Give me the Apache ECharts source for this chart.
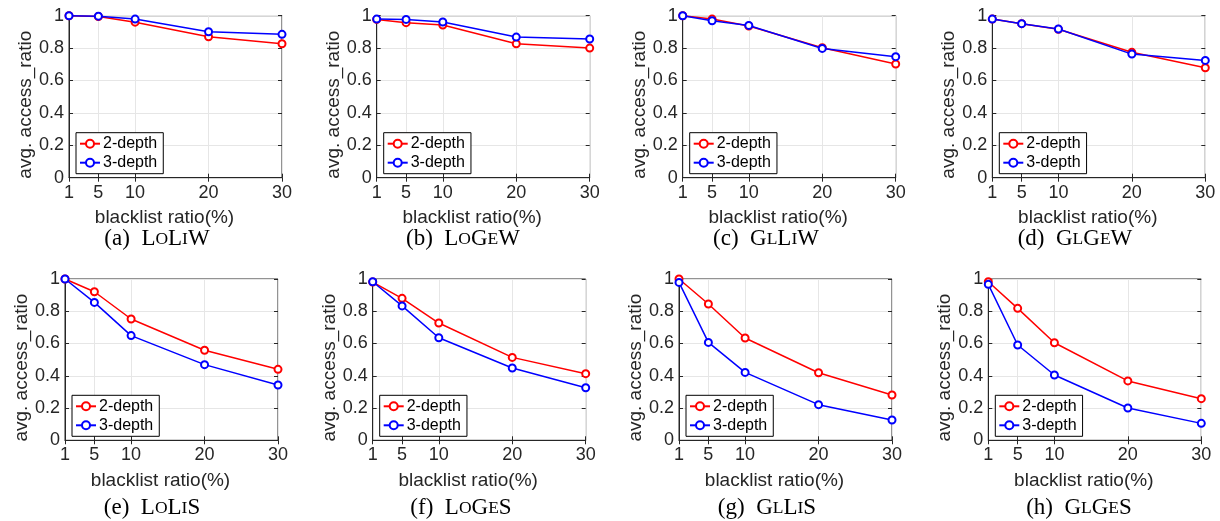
<!DOCTYPE html>
<html><head><meta charset="utf-8">
<script src="https://cdn.jsdelivr.net/npm/echarts@6/dist/echarts.min.js"></script>
<style>html,body{margin:0;padding:0;background:#fff}#c{width:1220px;height:521px}</style>
</head><body><div id="c"></div>
<script>
// ---- data ----
const xValues = [1, 5, 10, 20, 30];
const xTickLabels = ['1', '5', '10', '20', '30'];
const seriesNames = ['2-depth', '3-depth'];
const panelLetters = ['a', 'b', 'c', 'd', 'e', 'f', 'g', 'h'];
const panelNames = ['LoLiW', 'LoGeW', 'GlLiW', 'GlGeW', 'LoLiS', 'LoGeS', 'GlLiS', 'GlGeS'];
const xAxisTitle = 'blacklist ratio(%)';
const yAxisTitle = 'avg. access_ratio';

const loliw2 = [1.000, 0.995, 0.960, 0.870, 0.827];
const loliw3 = [1.000, 0.997, 0.979, 0.901, 0.885];
const logew2 = [0.977, 0.957, 0.942, 0.827, 0.800];
const logew3 = [0.979, 0.977, 0.961, 0.868, 0.856];
const glliw2 = [1.000, 0.979, 0.936, 0.802, 0.702];
const glliw3 = [1.000, 0.969, 0.940, 0.798, 0.747];
const glgew2 = [0.979, 0.951, 0.916, 0.774, 0.679];
const glgew3 = [0.979, 0.951, 0.918, 0.763, 0.724];
const lolis2 = [1.000, 0.921, 0.752, 0.558, 0.440];
const lolis3 = [1.000, 0.855, 0.649, 0.469, 0.343];
const loges2 = [0.981, 0.880, 0.727, 0.514, 0.413];
const loges3 = [0.983, 0.833, 0.636, 0.448, 0.326];
const gllis2 = [1.000, 0.845, 0.634, 0.419, 0.281];
const gllis3 = [0.979, 0.607, 0.421, 0.221, 0.126];
const glges2 = [0.983, 0.818, 0.605, 0.368, 0.258];
const glges3 = [0.967, 0.591, 0.405, 0.200, 0.105];

const panelData = [
  [loliw2, loliw3], [logew2, logew3], [glliw2, glliw3], [glgew2, glgew3],
  [lolis2, lolis3], [loges2, loges3], [gllis2, gllis3], [glges2, glges3]
];

// ---- layout (px) ----
const gridLeft = [69, 376.7, 682.7, 992.3, 65, 372.7, 679, 988.3];
const gridTop = [15.7, 15.7, 15.7, 15.7, 279, 279, 279, 279];
const gridW = 213;
const gridH = [162, 162, 162, 162, 161.3, 161.3, 161.3, 161.3];
const captionX = [157, 463, 766, 1075, 152, 461, 767, 1079];
const captionY = [239, 239, 239, 239, 508, 508, 508, 508];
const colors = ['#ff0000', '#0000ff'];
const axisColor = '#262626';
const gridColor = '#e6e6e6';

const grids = [], xAxes = [], yAxes = [], series = [], legends = [], graphics = [];

for (let i = 0; i < 8; i++) {
  grids.push({left: gridLeft[i], top: gridTop[i], width: gridW, height: gridH[i],
    show: true, borderColor: axisColor, borderWidth: 1, backgroundColor: '#fff'});
  xAxes.push({
    type: 'value', gridIndex: i, min: 1, max: 30,
    name: xAxisTitle, nameLocation: 'middle', nameGap: 31,
    nameTextStyle: {fontSize: 19, color: axisColor, fontFamily: 'Liberation Sans', padding: [0, 22, 0, 0]},
    axisLine: {show: true, onZero: false, lineStyle: {color: axisColor, width: 1}},
    axisTick: {show: true, inside: true, length: 4, customValues: xValues, lineStyle: {color: axisColor}},
    axisLabel: {customValues: xValues, fontSize: 18, color: axisColor, margin: 6, fontFamily: 'Liberation Sans',
      formatter: v => xTickLabels[xValues.indexOf(v)]},
    splitLine: {show: true, lineStyle: {color: gridColor, width: 1}}
  });
  yAxes.push({
    type: 'value', gridIndex: i, min: 0, max: 1, interval: 0.2,
    name: yAxisTitle, nameLocation: 'middle', nameGap: 33, nameRotate: 90,
    nameTextStyle: {fontSize: 19, color: axisColor, fontFamily: 'Liberation Sans', padding: [0, 16, 0, 0]},
    axisLine: {show: true, onZero: false, lineStyle: {color: axisColor, width: 1}},
    axisTick: {show: true, inside: true, length: 4, lineStyle: {color: axisColor}},
    axisLabel: {fontSize: 18, color: axisColor, margin: 5, fontFamily: 'Liberation Sans'},
    splitLine: {show: true, lineStyle: {color: gridColor, width: 1}}
  });
}
// mirrored ticks on top / right
for (let i = 0; i < 8; i++) {
  xAxes.push({type: 'value', gridIndex: i, min: 1, max: 30, position: 'top',
    axisLine: {show: false}, axisLabel: {show: false}, splitLine: {show: false},
    axisTick: {show: true, inside: true, length: 4, customValues: xValues, lineStyle: {color: axisColor}}});
  yAxes.push({type: 'value', gridIndex: i, min: 0, max: 1, interval: 0.2, position: 'right',
    axisLine: {show: false}, axisLabel: {show: false}, splitLine: {show: false},
    axisTick: {show: true, inside: true, length: 4, lineStyle: {color: axisColor}}});
}

for (let i = 0; i < 8; i++) {
  for (let s = 0; s < 2; s++) {
    series.push({
      type: 'line', name: seriesNames[s], xAxisIndex: i, yAxisIndex: i,
      data: xValues.map((x, k) => [x, panelData[i][s][k]]),
      symbol: 'emptyCircle', symbolSize: 7, showSymbol: true,
      lineStyle: {color: colors[s], width: 1.5},
      itemStyle: {color: colors[s], borderWidth: 1.3},
      clip: false, z: 3 + s
    });
  }
  legends.push({
    left: gridLeft[i] + 7, top: gridTop[i] + gridH[i] - 45,
    orient: 'vertical', itemGap: 3, itemWidth: 20, itemHeight: 10,
    padding: [3, 6, 3, 3], borderColor: '#000', borderWidth: 1, backgroundColor: '#fff',
    selectedMode: false, data: seriesNames,
    textStyle: {fontSize: 16, color: '#000', fontFamily: 'Liberation Sans', padding: [0, 0, 0, -2]}
  });
  const rich = panelNames[i].split('').map(ch =>
    ch === ch.toUpperCase() ? '{b|' + ch + '}' : '{s|' + ch.toUpperCase() + '}').join('');
  graphics.push({
    type: 'text', x: captionX[i], y: captionY[i],
    style: {
      text: '{b|(' + panelLetters[i] + ')  }' + rich,
      align: 'center', verticalAlign: 'middle',
      rich: {
        b: {fontFamily: 'Liberation Serif', fontSize: 23, fill: '#000'},
        s: {fontFamily: 'Liberation Serif', fontSize: 17.5, fill: '#000'}
      }
    }
  });
}

const chart = echarts.init(document.getElementById('c'), null, {renderer: 'canvas'});
chart.setOption({
  animation: false,
  backgroundColor: '#fff',
  grid: grids, xAxis: xAxes, yAxis: yAxes, series: series, legend: legends, graphic: graphics
});
</script></body></html>
